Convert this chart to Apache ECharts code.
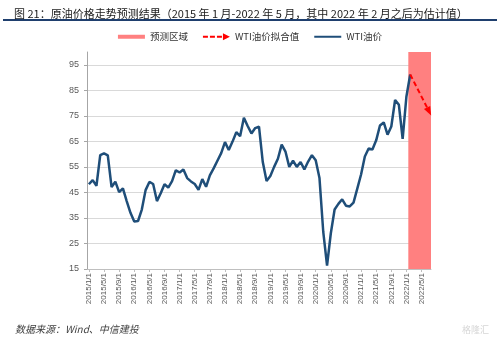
<!DOCTYPE html>
<html>
<head>
<meta charset="utf-8">
<script src="https://cdn.jsdelivr.net/npm/echarts@6/dist/echarts.min.js"></script>
<style>
  html, body { margin: 0; padding: 0; background: #fff; }
  #chart { width: 500px; height: 337px; }
</style>
</head>
<body>
<div id="chart"></div>
<script>
// Monthly axis: 2015/1/1 through 2022/7/1
const startYear = 2015;
const monthCount = 91;
const categories = [];
for (let i = 0; i < monthCount; i++) {
  const y = startYear + Math.floor(i / 12);
  const m = (i % 12) + 1;
  categories.push(y + '/' + m + '/1');
}

// WTI price, USD/bbl, 2015/1 .. 2022/2
const wti2015 = [48.2, 49.8, 47.6, 59.6, 60.3, 59.5, 47.1, 49.2, 45.1, 46.6, 41.6, 37.0];
const wti2016 = [33.6, 33.8, 38.3, 45.9, 49.1, 48.3, 41.6, 44.7, 48.2, 46.9, 49.4, 53.7];
const wti2017 = [52.8, 54.0, 50.6, 49.3, 48.3, 46.0, 50.2, 47.2, 51.7, 54.4, 57.4, 60.4];
const wti2018 = [64.7, 61.6, 64.9, 68.6, 67.0, 74.2, 71.0, 68.1, 70.2, 70.8, 56.9, 49.5];
const wti2019 = [51.4, 55.0, 58.2, 63.7, 61.0, 55.0, 57.4, 55.0, 56.9, 54.0, 57.1, 59.6];
const wti2020 = [57.6, 50.6, 29.5, 16.3, 29.0, 38.3, 40.5, 42.3, 39.8, 39.5, 41.0, 46.5];
const wti2021 = [52.0, 59.1, 62.2, 61.8, 65.4, 71.2, 72.4, 67.6, 70.8, 81.2, 79.3, 66.0];
const wti2022 = [82.6, 91.2];

// Fitted path: from 2022/2/1 to 2022/7/1 (only the two ends are given)
const fittedStart = '2022/2/1';
const fittedValues = [91.2, null, null, null, null, 76.7];

// Shaded forecast months (first and last)
const forecastFrom = '2022/2/1';
const forecastTo = '2022/7/1';

// Y axis ticks
const yMin = 15, yMax = 100, yStep = 10;

const wti = [].concat(wti2015, wti2016, wti2017, wti2018, wti2019, wti2020, wti2021, wti2022);
const fitOffset = categories.indexOf(fittedStart);
const lastK = fittedValues.length - 1;

const chart = echarts.init(document.getElementById('chart'), null, { renderer: 'canvas' });

const cjk = '"Noto Sans CJK SC", "Noto Sans", sans-serif';
const axisFont = 'Arial, "Liberation Sans", sans-serif';

function fittedData(arrowRotate) {
  return categories.map((c, i) => {
    const k = i - fitOffset;
    const v = (k >= 0 && k < fittedValues.length) ? fittedValues[k] : null;
    if (k === lastK) {
      return { value: v, symbol: 'triangle', symbolSize: [7, 9], symbolRotate: arrowRotate };
    }
    return { value: v, symbol: 'none' };
  });
}

// One solid block covering the whole bands of the forecast months
function renderForecast(params, api) {
  const top = api.coord([api.value(0), api.value(2)]);
  const bottom = api.coord([api.value(1), yMin]);
  const band = api.size([1, 0])[0];
  return {
    type: 'rect',
    shape: { x: top[0] - band / 2, y: top[1], width: bottom[0] - top[0] + band, height: bottom[1] - top[1] },
    style: { fill: api.visual('color') }
  };
}

const option = {
  animation: false,
  backgroundColor: '#ffffff',
  textStyle: { fontFamily: cjk },
  title: [{
    text: '图 21：原油价格走势预测结果（2015 年 1 月-2022 年 5 月，其中 2022 年 2 月之后为估计值）',
    left: 9, top: 3,
    textStyle: { fontSize: 11, fontWeight: 'normal', color: '#1a1a1a', fontFamily: cjk }
  }, {
    text: '数据来源：Wind、中信建投',
    left: 10, top: 319,
    textStyle: { fontSize: 10, fontWeight: 'normal', fontStyle: 'italic', color: '#404040', fontFamily: cjk }
  }, {
    text: '格隆汇',
    right: 6, top: 320,
    textStyle: { fontSize: 9, fontWeight: 'normal', color: '#d6d6d6', fontFamily: cjk }
  }],
  graphic: [{
    type: 'line',
    shape: { x1: 3, y1: 20, x2: 497, y2: 20 },
    style: { stroke: '#1f3f6e', lineWidth: 2 }
  }],
  legend: {
    top: 27,
    left: 'center',
    itemWidth: 27,
    itemHeight: 7,
    itemGap: 15,
    textStyle: { fontSize: 9.5, color: '#333', fontFamily: cjk },
    data: [
      { name: '预测区域', icon: 'path://M0,0h27v4h-27z', itemStyle: { color: '#ff8080' } },
      { name: 'WTI油价拟合值', icon: 'path://M0,2.5h5v2h-5zM7,2.5h5v2h-5zM14,2.5h5v2h-5zM20,0l7,3.5l-7,3.5z', itemStyle: { color: '#ff0000' } },
      { name: 'WTI油价', icon: 'path://M0,0h27v2h-27z', itemStyle: { color: '#1f4e79' } }
    ]
  },
  grid: { left: 87, right: 69, top: 52, bottom: 68 },
  xAxis: {
    type: 'category',
    data: categories,
    boundaryGap: true,
    axisLine: { lineStyle: { color: '#bfbfbf', width: 1 } },
    axisTick: { show: true, interval: 3, alignWithLabel: true, length: 3, lineStyle: { color: '#bfbfbf' } },
    axisLabel: { interval: 3, rotate: 90, fontSize: 8, color: '#595959', margin: 4, fontFamily: axisFont }
  },
  yAxis: {
    type: 'value',
    min: yMin, max: yMax, interval: yStep,
    axisLine: { show: true, lineStyle: { color: '#a6a6a6', width: 1 } },
    axisTick: { show: true, length: 3, lineStyle: { color: '#a6a6a6' } },
    axisLabel: { fontSize: 9, color: '#595959', margin: 8, showMaxLabel: false, fontFamily: axisFont },
    splitLine: { show: true, showMaxLine: false, showMinLine: false, lineStyle: { color: '#d9d9d9', width: 1 } }
  },
  series: [{
    name: '预测区域',
    type: 'custom',
    renderItem: renderForecast,
    data: [[categories.indexOf(forecastFrom), categories.indexOf(forecastTo), yMax]],
    encode: { x: [0, 1], y: 2 },
    itemStyle: { color: '#ff8080' },
    z: 1,
    silent: true
  }, {
    name: 'WTI油价拟合值',
    type: 'line',
    data: fittedData(0),
    connectNulls: true,
    showAllSymbol: true,
    symbol: 'none',
    lineStyle: { color: '#ff0000', width: 2, type: [5, 3] },
    itemStyle: { color: '#ff0000' },
    z: 4
  }, {
    name: 'WTI油价',
    type: 'line',
    data: wti,
    symbol: 'none',
    lineStyle: { color: '#1f4e79', width: 2.5 },
    itemStyle: { color: '#1f4e79' },
    z: 3
  }]
};

chart.setOption(option);

// Aim the arrowhead along the dashed segment
const p0 = chart.convertToPixel({ seriesIndex: 1 }, [fitOffset, fittedValues[0]]);
const p1 = chart.convertToPixel({ seriesIndex: 1 }, [fitOffset + lastK, fittedValues[lastK]]);
const ang = Math.atan2(p1[1] - p0[1], p1[0] - p0[0]) * 180 / Math.PI;
chart.setOption({ series: [{}, { data: fittedData(-(ang + 90)) }, {}] });
</script>
</body>
</html>
